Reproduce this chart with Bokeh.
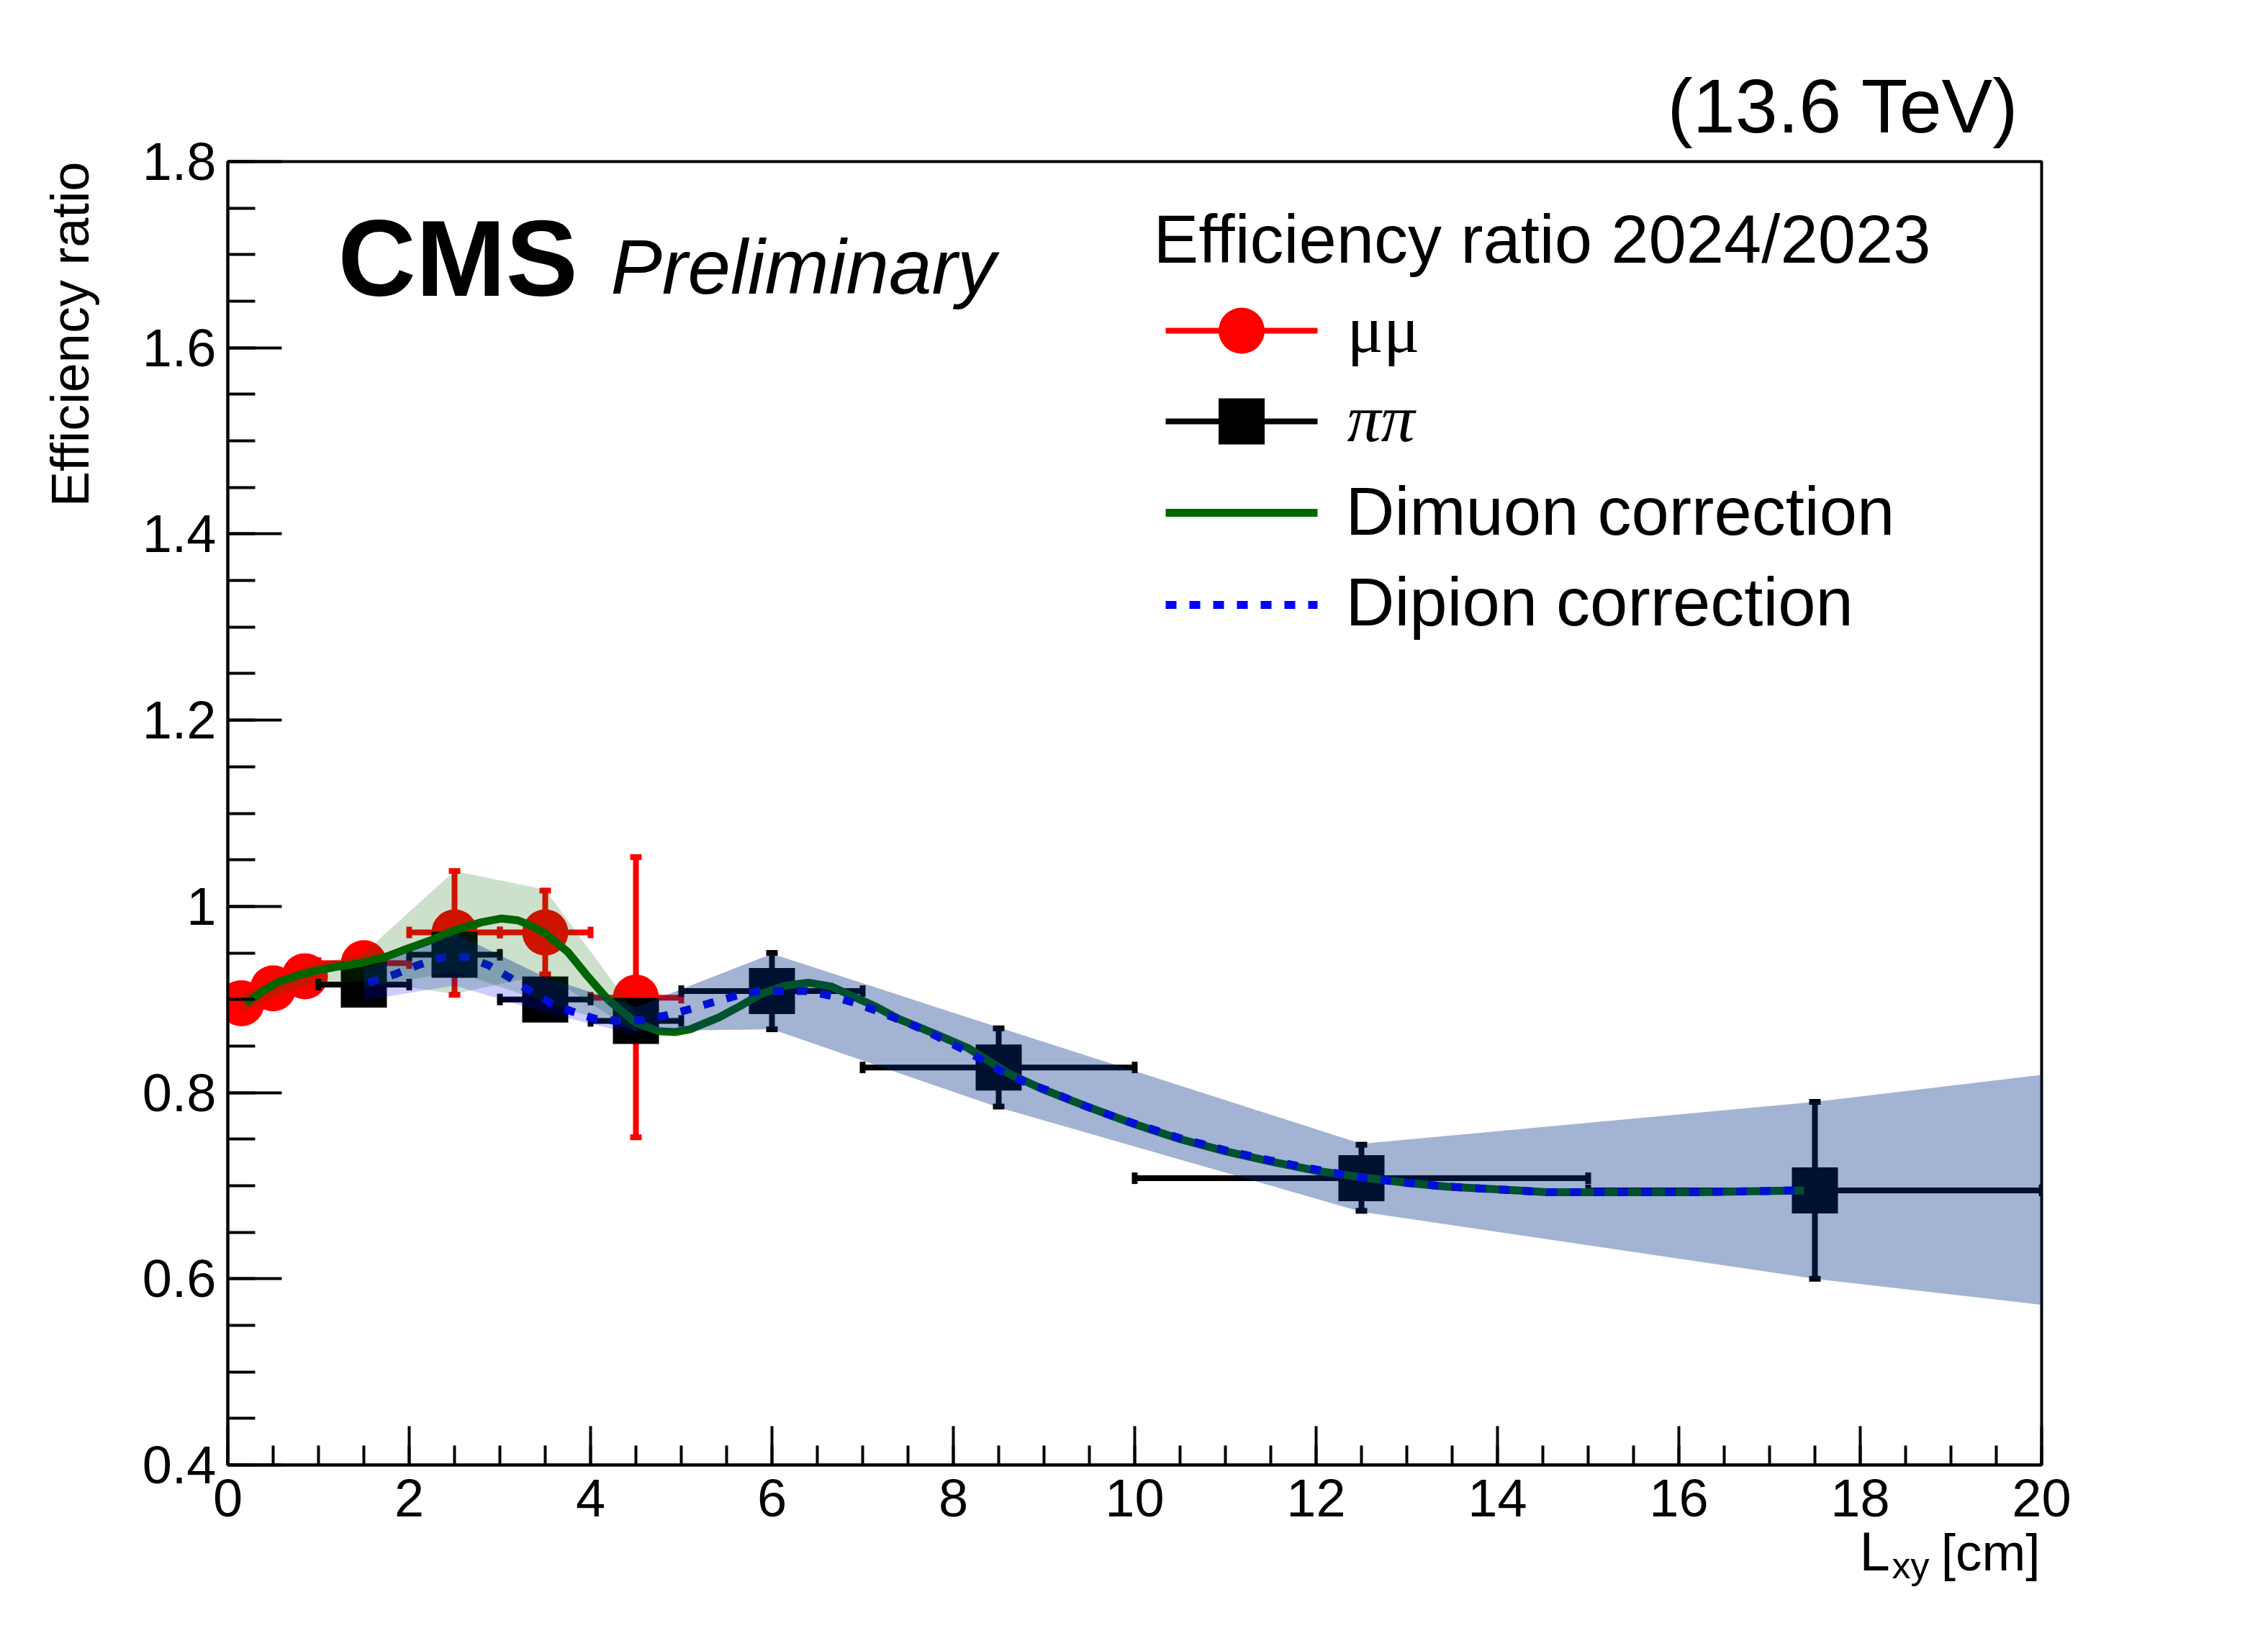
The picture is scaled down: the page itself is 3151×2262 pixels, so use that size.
import math
from bokeh.plotting import figure
from bokeh.models import Range1d, FixedTicker, CustomJSTickFormatter, Label
from bokeh.embed import file_html
from bokeh.resources import INLINE

# ---------------- data ----------------
mumu_x = [0.15, 0.5, 0.85, 1.5, 2.5, 3.5, 4.5]
mumu_xlo = [0.0, 0.3, 0.7, 1.0, 2.0, 3.0, 4.0]
mumu_xhi = [0.3, 0.7, 1.0, 2.0, 3.0, 4.0, 5.0]
mumu_y = [0.896, 0.912, 0.925, 0.939, 0.972, 0.972, 0.902]
mumu_ylo = [0.886, 0.902, 0.915, 0.927, 0.905, 0.927, 0.752]
mumu_yhi = [0.906, 0.922, 0.935, 0.951, 1.038, 1.017, 1.053]

pipi_x = [1.5, 2.5, 3.5, 4.5, 6.0, 8.5, 12.5, 17.5]
pipi_xlo = [1.0, 2.0, 3.0, 4.0, 5.0, 7.0, 10.0, 15.0]
pipi_xhi = [2.0, 3.0, 4.0, 5.0, 7.0, 10.0, 15.0, 20.0]
pipi_y = [0.916, 0.948, 0.900, 0.877, 0.909, 0.827, 0.708, 0.695]
pipi_ylo = [0.904, 0.936, 0.888, 0.862, 0.868, 0.785, 0.673, 0.600]
pipi_yhi = [0.928, 0.960, 0.912, 0.892, 0.950, 0.869, 0.744, 0.790]

# dimuon band (green)
mu_band_x = [0.15, 0.5, 0.85, 1.5, 2.5, 3.5, 4.5]
mu_band_hi = [0.905, 0.920, 0.935, 0.950, 1.038, 1.018, 0.885]
mu_band_lo = [0.887, 0.902, 0.915, 0.920, 0.906, 0.927, 0.865]

# dipion band (blue-grey)
pi_band_x = [1.5, 2.5, 3.5, 4.5, 6.0, 8.5, 12.5, 17.5, 20.0]
pi_band_hi = [0.932, 0.971, 0.924, 0.892, 0.949, 0.870, 0.745, 0.790, 0.819]
pi_band_lo = [0.912, 0.930, 0.897, 0.866, 0.868, 0.784, 0.672, 0.600, 0.572]

# dipion correction extra band (lavender sliver)
pi_corr_x = [1.5, 2.5, 3.5, 4.5]
pi_corr_hi = [0.912, 0.930, 0.897, 0.866]
pi_corr_lo = [0.899, 0.915, 0.886, 0.862]

# correction curves
dimuon_x = [0.20, 0.40, 0.56, 0.75, 0.93, 1.20, 1.46, 1.75, 1.99, 2.25, 2.52, 2.80, 3.02,
            3.20, 3.35, 3.50, 3.75, 3.95, 4.20, 4.50, 4.75, 4.93, 5.10, 5.27, 5.42, 5.65,
            5.88, 6.15, 6.40, 6.65, 6.90, 7.15, 7.40, 7.80, 8.16, 8.60, 9.00, 9.50, 10.0,
            10.5, 11.0, 11.5, 12.0, 12.5, 13.0, 13.44, 14.0, 14.55, 15.1, 15.66, 16.2,
            16.77, 17.38]
dimuon_y = [0.896, 0.910, 0.919, 0.925, 0.930, 0.935, 0.939, 0.946, 0.955, 0.964, 0.975,
            0.983, 0.987, 0.985, 0.979, 0.971, 0.951, 0.927, 0.899, 0.875, 0.866, 0.865,
            0.868, 0.875, 0.881, 0.893, 0.906, 0.915, 0.918, 0.914, 0.903, 0.892, 0.879,
            0.863, 0.848, 0.821, 0.803, 0.784, 0.766, 0.750, 0.737, 0.726, 0.716, 0.709,
            0.703, 0.699, 0.696, 0.693, 0.693, 0.693, 0.693, 0.694, 0.695]

dipion_x = [1.55, 1.84, 2.10, 2.35, 2.62, 2.87, 3.10, 3.32, 3.56, 3.80, 4.06, 4.31, 4.58,
            4.84, 5.11, 5.35, 5.61, 5.85, 6.13, 6.38, 6.65, 6.92, 7.15, 7.41, 7.66, 7.89,
            8.14, 8.37, 8.60, 8.85, 9.08, 9.36, 9.72, 9.99, 10.5, 11.0, 11.5, 12.02,
            12.48, 13.0, 13.44, 14.0, 14.55, 15.1, 15.66, 16.2, 16.77, 17.38]
dipion_y = [0.918, 0.927, 0.937, 0.945, 0.946, 0.937, 0.924, 0.910, 0.896, 0.887, 0.879,
            0.877, 0.878, 0.883, 0.890, 0.897, 0.904, 0.909, 0.909, 0.909, 0.904, 0.896,
            0.888, 0.878, 0.868, 0.857, 0.845, 0.832, 0.819, 0.809, 0.801, 0.789, 0.776,
            0.767, 0.751, 0.738, 0.727, 0.717, 0.709, 0.703, 0.699, 0.696, 0.693, 0.693,
            0.693, 0.693, 0.694, 0.695]

x_ticks = [0, 2, 4, 6, 8, 10, 12, 14, 16, 18, 20]
x_tick_labels = ["0", "2", "4", "6", "8", "10", "12", "14", "16", "18", "20"]
x_minor = [i * 0.5 for i in range(41)]
y_ticks = [0.4, 0.6, 0.8, 1.0, 1.2, 1.4, 1.6, 1.8]
y_tick_labels = ["0.4", "0.6", "0.8", "1", "1.2", "1.4", "1.6", "1.8"]
y_minor = [round(0.4 + i * 0.05, 2) for i in range(29)]

legend_header = "Efficiency ratio 2024/2023"
legend_labels = ["\u03bc\u03bc", "\u03c0\u03c0", "Dimuon correction", "Dipion correction"]

# ---------------- layout ----------------
W, H = 3145, 2256
ML, MR, MT, MB = 316, 309, 224, 221
FW = W - ML - MR
FH = H - MT - MB
FONT = "Liberation Sans"
BASE_FIX = 0.29  # em correction so that y is the alphabetic baseline

p = figure(width=W, height=H, x_range=Range1d(0, 20), y_range=Range1d(0.4, 1.8),
           output_backend="svg", toolbar_location=None,
           min_border_left=ML, min_border_right=MR, min_border_top=MT, min_border_bottom=MB)
p.extra_x_ranges = {"px": Range1d(0, FW)}
p.extra_y_ranges = {"px": Range1d(FH, 0)}

p.xgrid.visible = False
p.ygrid.visible = False
p.outline_line_color = "black"
p.outline_line_width = 4
p.outline_line_alpha = 1.0
p.background_fill_color = "white"
p.border_fill_color = "white"

for ax in (p.xaxis[0], p.yaxis[0]):
    ax.axis_line_width = 4
    ax.axis_line_color = "black"
    ax.major_tick_line_width = 4
    ax.minor_tick_line_width = 4
    ax.major_tick_line_color = "black"
    ax.minor_tick_line_color = "black"
    ax.major_tick_out = 0
    ax.minor_tick_out = 0
    ax.major_label_text_font = FONT
    ax.major_label_text_font_size = "74px"
    ax.major_label_text_color = "black"
    ax.axis_label = None

p.xaxis.major_tick_in = 54
p.xaxis.minor_tick_in = 27
p.yaxis.major_tick_in = 75
p.yaxis.minor_tick_in = 38
p.xaxis.major_label_standoff = 20
p.yaxis.major_label_standoff = 16
p.xaxis.ticker = FixedTicker(ticks=x_ticks, minor_ticks=x_minor)
p.yaxis.ticker = FixedTicker(ticks=y_ticks, minor_ticks=y_minor)
fmt_code = """
let best = 0, d = 1e9;
for (let i = 0; i < tv.length; i++) {
  const e = Math.abs(tv[i] - tick);
  if (e < d) { d = e; best = i; }
}
return tl[best];
"""
p.xaxis.formatter = CustomJSTickFormatter(args=dict(tv=x_ticks, tl=x_tick_labels), code=fmt_code)
p.yaxis.formatter = CustomJSTickFormatter(args=dict(tv=y_ticks, tl=y_tick_labels), code=fmt_code)

ERR_W = 8
CAP_L, CAP_T = 16, 8
MK = 64


def error_bars(x, y, xlo, xhi, ylo, yhi, color):
    p.segment(x0=xlo, y0=y, x1=xhi, y1=y, line_color=color, line_width=ERR_W)
    p.segment(x0=x, y0=ylo, x1=x, y1=yhi, line_color=color, line_width=ERR_W)
    p.rect(x=xlo + xhi, y=y + y, width=CAP_T, height=CAP_L, width_units="screen",
           height_units="screen", fill_color=color, line_color=None)
    p.rect(x=x + x, y=ylo + yhi, width=CAP_L, height=CAP_T, width_units="screen",
           height_units="screen", fill_color=color, line_color=None)


RED = "#ff0000"
BLACK = "#000000"
GREEN = "#006600"
BLUE = "#0000ff"
DASH = "15 18"

error_bars(mumu_x, mumu_y, mumu_xlo, mumu_xhi, mumu_ylo, mumu_yhi, RED)
p.scatter(mumu_x, mumu_y, marker="circle", size=MK, fill_color=RED, line_color=None)
error_bars(pipi_x, pipi_y, pipi_xlo, pipi_xhi, pipi_ylo, pipi_yhi, BLACK)
p.scatter(pipi_x, pipi_y, marker="square", size=MK, fill_color=BLACK, line_color=None)

p.line(dimuon_x, dimuon_y, line_color=GREEN, line_width=11)
p.line(dipion_x, dipion_y, line_color=BLUE, line_width=11, line_dash=DASH)

p.patch(mu_band_x + mu_band_x[::-1], mu_band_hi + mu_band_lo[::-1],
        fill_color=GREEN, fill_alpha=0.2, line_color=None)
p.patch(pi_corr_x + pi_corr_x[::-1], pi_corr_hi + pi_corr_lo[::-1],
        fill_color=BLUE, fill_alpha=0.2, line_color=None)
p.patch(pi_band_x + pi_band_x[::-1], pi_band_hi + pi_band_lo[::-1],
        fill_color="#002c85", fill_alpha=0.36, line_color=None)

# ---------------- legend (frame pixel coordinates, y downward from frame top) ----------------
LX0, LX1 = 1303, 1514
LXC = (LX0 + LX1) / 2
rows = [235, 361, 488, 616]
px = dict(x_range_name="px", y_range_name="px")
p.segment(x0=[LX0], y0=[rows[0]], x1=[LX1], y1=[rows[0]], line_color=RED, line_width=ERR_W, **px)
p.scatter([LXC], [rows[0]], marker="circle", size=MK, fill_color=RED, line_color=None, **px)
p.segment(x0=[LX0], y0=[rows[1]], x1=[LX1], y1=[rows[1]], line_color=BLACK, line_width=ERR_W, **px)
p.scatter([LXC], [rows[1]], marker="square", size=MK, fill_color=BLACK, line_color=None, **px)
p.line([LX0, LX1], [rows[2], rows[2]], line_color=GREEN, line_width=11, **px)
p.line([LX0, LX1], [rows[3], rows[3]], line_color=BLUE, line_width=11, line_dash=DASH, **px)


def text_in(t, x, y, size, font=FONT, style="normal", align="left"):
    """text inside the frame; x, y in frame pixels (y downward), y = baseline"""
    p.add_layout(Label(x=x, y=y - BASE_FIX * size, text=t, text_font=font,
                       text_font_size=f"{size}px", text_font_style=style, text_align=align,
                       text_baseline="alphabetic", text_color="black", **px))


def text_out(t, x, y, size, place, font=FONT, style="normal", align="left", angle=0.0):
    """text outside the frame, put in a side panel (not clipped to the frame);
    x, y in frame pixels (y downward), y = baseline; canvas units (top-left origin)."""
    if angle:
        cx, cy = ML + x - BASE_FIX * size, MT + y
    else:
        cx, cy = ML + x, MT + y - BASE_FIX * size
    p.add_layout(Label(x=cx, y=cy, x_units="canvas", y_units="canvas", text=t,
                       text_font=font, text_font_size=f"{size}px", text_font_style=style,
                       text_align=align, text_baseline="alphabetic", text_color="black",
                       angle=angle), place)


text_in(legend_header, 1286, 135, 94)
text_in(legend_labels[0], 1555, 260, 94, font="Liberation Serif")
text_in(legend_labels[1], 1555, 384, 94, font="Liberation Serif", style="italic")
text_in(legend_labels[2], 1553, 513, 94)
text_in(legend_labels[3], 1553, 639, 94)

text_in("CMS", 153, 178, 150, style="bold")
text_in("Preliminary", 532, 178, 107, style="italic")

text_out("(13.6 TeV)", 2489, -47, 106, "above", align="right")
text_out("Efficiency ratio", -198, 0, 74, "left", align="right", angle=math.pi / 2)
text_out("L", 2267, 1953, 76, "right")
text_out("xy", 2312, 1966, 52, "right")
text_out("[cm]", 2518, 1953, 73, "right", align="right")

open("out.html", "w").write(file_html(p, INLINE))
